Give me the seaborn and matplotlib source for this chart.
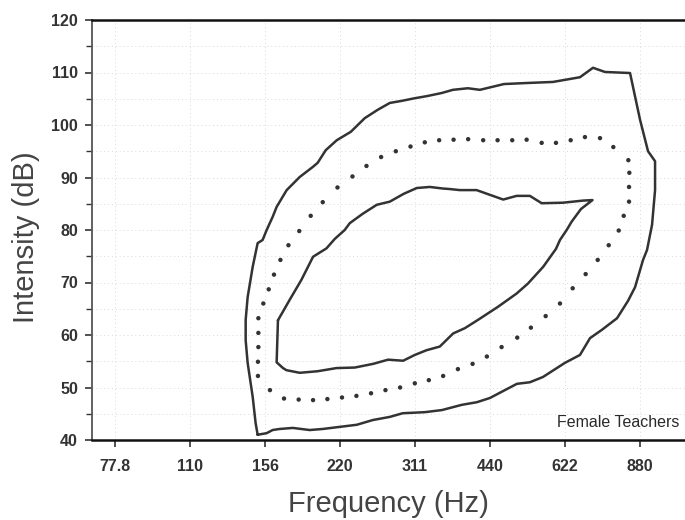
import matplotlib
matplotlib.use("Agg")
import matplotlib.pyplot as plt
import seaborn as sns

# Voice range profile, female teachers: frequency (Hz) vs. intensity (dB)

# Outer boundary (solid)
outer_hz = [150.6, 149.2, 147.2, 143.8, 142.5, 142.5, 143.8, 147.2, 150.6, 154.1,
            157.0, 161.4, 164.4, 172.2, 182.9, 194.2, 198.7, 206.2, 217.0, 231.5,
            246.9, 262.2, 277.2, 293.0, 311.1, 328.9, 352.5, 370.9, 397.5, 420.1,
            442.0, 469.4, 522.0, 588.7, 666.9, 708.2, 748.6, 840.3, 880.0, 913.1,
            943.2, 943.2, 930.2, 908.9, 892.3, 859.9, 832.5, 791.4, 738.3, 698.5,
            666.9, 622.3, 562.1, 529.2, 498.5, 467.2, 440.0, 414.4, 386.6, 352.5,
            325.8, 294.3, 277.2, 256.2, 238.0, 220.0, 203.4, 191.5, 177.1, 166.7,
            161.4, 157.0, 150.6]
outer_db = [41.0, 43.2, 48.2, 54.7, 59.0, 62.9, 67.2, 73.0, 77.5, 78.1,
            80.0, 82.5, 84.4, 87.6, 90.1, 92.0, 92.8, 95.2, 97.1, 98.7,
            101.3, 102.9, 104.2, 104.6, 105.1, 105.5, 106.1, 106.7, 107.0, 106.7,
            107.2, 107.8, 108.0, 108.2, 109.1, 110.9, 110.1, 109.9, 101.0, 95.0,
            93.1, 87.6, 81.0, 76.2, 74.3, 69.1, 66.5, 63.2, 61.0, 59.4,
            56.2, 54.7, 52.0, 51.0, 50.7, 49.3, 48.0, 47.2, 46.7, 45.7,
            45.3, 45.1, 44.4, 43.8, 42.9, 42.5, 42.1, 41.9, 42.3, 42.1,
            41.9, 41.3, 41.0]

# Middle boundary (dotted)
mid_hz = [159.4, 150.8, 150.8, 151.1, 151.1, 151.1, 154.6, 158.5, 162.4, 167.3,
          173.6, 182.5, 192.4, 203.4, 217.7, 233.3, 248.9, 266.3, 285.0, 305.0,
          325.8, 348.1, 372.1, 398.0, 426.6, 455.9, 487.8, 521.3, 558.8, 596.9,
          638.9, 682.4, 731.5, 777.9, 833.7, 837.6, 836.4, 836.4, 816.1, 797.5,
          761.5, 723.8, 684.6, 644.8, 608.1, 569.2, 531.7, 499.2, 464.4, 433.9,
          406.2, 379.6, 354.6, 331.9, 311.1, 290.7, 271.7, 254.2, 237.6, 222.3,
          207.8, 194.5, 182.0, 170.1]
mid_db = [49.5, 52.2, 54.9, 57.7, 60.4, 63.2, 66.0, 68.7, 71.5, 74.3,
          77.1, 79.8, 82.7, 85.3, 88.1, 90.2, 92.2, 93.9, 95.0, 95.9,
          96.7, 97.1, 97.2, 97.3, 97.1, 97.1, 97.1, 97.2, 96.6, 96.6,
          97.1, 97.7, 97.5, 95.8, 93.3, 90.9, 88.2, 85.4, 82.7, 79.9,
          77.1, 74.3, 71.6, 68.9, 66.0, 63.6, 61.4, 59.5, 57.7, 55.9,
          54.5, 53.5, 52.2, 51.4, 50.8, 50.0, 49.5, 48.9, 48.4, 48.1,
          47.8, 47.6, 47.7, 47.9]

# Inner boundary (solid)
inner_hz = [165.4, 174.6, 184.3, 194.5, 206.9, 215.0, 225.1, 230.4, 244.7, 261.0,
            277.2, 295.7, 314.0, 333.5, 354.1, 365.8, 383.0, 413.8, 440.0, 467.9,
            497.8, 529.2, 558.8, 616.5, 676.2, 706.6, 670.0, 641.9, 627.2, 608.1,
            596.9, 562.9, 524.5, 497.8, 457.2, 416.8, 392.0, 371.4, 349.2, 328.4,
            311.1, 294.8, 275.0, 256.6, 235.8, 216.7, 198.7, 182.9, 172.0, 169.3,
            164.4, 165.4]
inner_db = [62.8, 66.7, 70.5, 74.9, 76.5, 78.3, 80.0, 81.3, 83.1, 84.8,
            85.4, 86.9, 88.0, 88.2, 87.9, 87.8, 87.6, 87.6, 86.7, 85.8,
            86.5, 86.5, 85.1, 85.2, 85.6, 85.7, 84.0, 81.6, 80.0, 78.1,
            76.4, 73.0, 69.8, 67.9, 65.4, 62.9, 61.3, 60.3, 57.8, 57.1,
            56.2, 55.1, 55.3, 54.5, 53.8, 53.7, 53.1, 52.8, 53.3, 53.7,
            54.8, 62.8]

freq_ticks = [77.8, 110, 156, 220, 311, 440, 622, 880]
freq_labels = ["77.8", "110", "156", "220", "311", "440", "622", "880"]
db_ticks = [40, 50, 60, 70, 80, 90, 100, 110, 120]

sns.set_theme(style="white")
plt.rcParams["font.family"] = ["Liberation Sans", "DejaVu Sans"]

ink = "#333333"
fig = plt.figure(figsize=(6.85, 5.2), dpi=100)
ax = fig.add_axes([92 / 685, 80 / 520, 593 / 685, 420 / 520])

ax.set_xscale("log", base=2)

# faint dotted background grid
for t in freq_ticks:
    ax.axvline(t, color="#dadada", lw=0.7, ls=(0, (1, 3)), zorder=0)
for d in range(45, 120, 5):
    ax.axhline(d, color="#dadada", lw=0.7, ls=(0, (1, 3)), zorder=0)

sns.lineplot(x=outer_hz, y=outer_db, sort=False, estimator=None,
             color=ink, lw=1.8, ax=ax)
sns.lineplot(x=inner_hz, y=inner_db, sort=False, estimator=None,
             color=ink, lw=1.8, ax=ax)
sns.scatterplot(x=mid_hz, y=mid_db, s=10, color=ink, edgecolor="none",
                linewidth=0, ax=ax)

ax.set_xlim(70.1, 1083)
ax.set_ylim(40, 120)

ax.set_xticks(freq_ticks)
ax.set_xticklabels(freq_labels)
ax.xaxis.set_minor_locator(matplotlib.ticker.NullLocator())
ax.set_yticks(db_ticks)
ax.yaxis.set_minor_locator(matplotlib.ticker.MultipleLocator(5))

ax.tick_params(axis="x", which="major", direction="out", length=5, width=1.2,
               pad=9, labelsize=11.5, colors=ink, bottom=True)
ax.tick_params(axis="y", which="major", direction="out", length=5, width=1.2,
               pad=5, labelsize=11.5, colors=ink, left=True)
ax.tick_params(axis="y", which="minor", direction="out", length=4, width=1.0,
               colors=ink, left=True)
for lbl in ax.get_xticklabels() + ax.get_yticklabels():
    lbl.set_fontweight("bold")

for side in ["top", "bottom"]:
    ax.spines[side].set_color("#111111")
    ax.spines[side].set_linewidth(1.8)
ax.spines["left"].set_color("#555555")
ax.spines["left"].set_linewidth(1.3)
ax.spines["right"].set_visible(False)

ax.set_xlabel("Frequency (Hz)", fontsize=21, color="#444444")
ax.xaxis.set_label_coords(0.5, -0.171)
ax.xaxis.label.set_verticalalignment("baseline")

ax.set_ylabel("Intensity (dB)", fontsize=21, color="#444444")
ax.yaxis.set_label_coords(-0.0978, 0.482)
ax.yaxis.label.set_verticalalignment("baseline")
ax.yaxis.label.set_horizontalalignment("center")

ax.text(0.99, 0.032, "Female Teachers", transform=ax.transAxes, ha="right",
        va="baseline", fontsize=11.5, color="#2a2a2a")

fig.savefig("out.png", dpi=100)
